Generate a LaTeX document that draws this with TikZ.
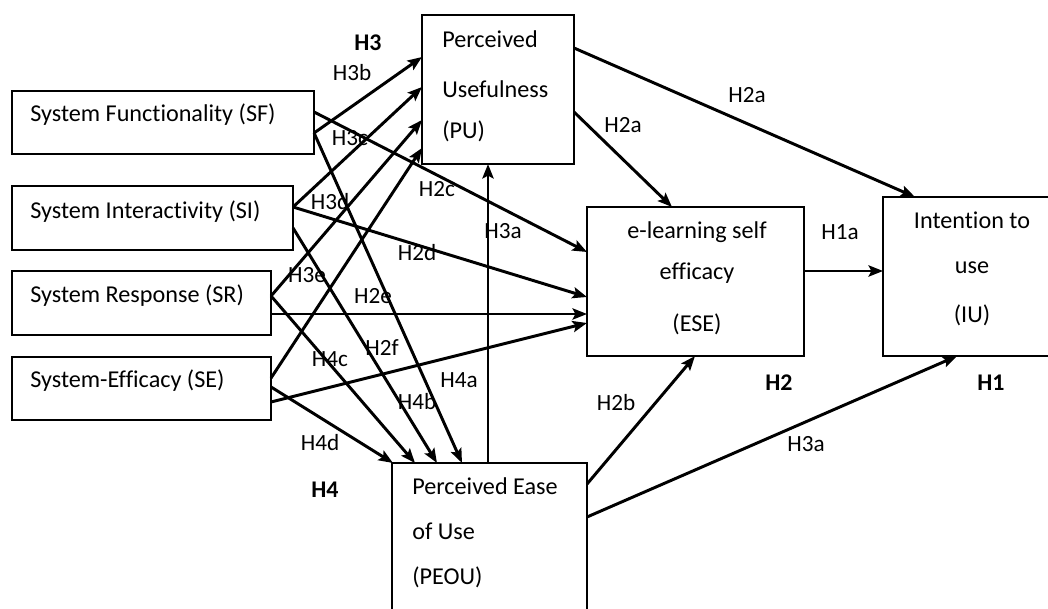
\documentclass[tikz,border=0pt]{standalone}
\usepackage{fontspec}
\setmainfont{Carlito}[Ligatures=NoCommon]
\usetikzlibrary{arrows.meta,calc}

\begin{document}
\begin{tikzpicture}[x=0.025cm,y=-0.025cm,
    box/.style={draw,line width=1.1pt,inner sep=0pt,outer sep=0pt,anchor=north west},
    txt/.style={font=\fontsize{17.2}{32}\selectfont,inner sep=0pt},
    lbl/.style={font=\fontsize{16.5}{19}\selectfont,inner sep=0pt},
    hyp/.style={font=\fontsize{17}{19}\selectfont\bfseries,inner sep=0pt},
    arr/.style={-{Stealth[length=3.6mm,width=2.8mm,inset=0.7mm]},line width=2.1pt}]
    \useasboundingbox (0,0) rectangle (1048,609);
    \clip (0,0) rectangle (1048,609);
    % System quality constructs
    \node[box,minimum width=7.55cm,minimum height=1.575cm] (sf) at (12,91) {};
    \node[box,minimum width=7.025cm,minimum height=1.6cm] (si) at (12,186) {};
    \node[box,minimum width=6.475cm,minimum height=1.6cm] (sr) at (12,271) {};
    \node[box,minimum width=6.475cm,minimum height=1.575cm] (se) at (12,357) {};
    \node[txt,anchor=west] (sf-t) at (30,115) {System Functionality (SF)};
    \node[txt,anchor=west] (si-t) at (30,212) {System Interactivity (SI)};
    \node[txt,anchor=west] (sr-t) at (30,296) {System Response (SR)};
    \node[txt,anchor=west] (se-t) at (30,381) {System-Efficacy (SE)};
    % Mediators and outcome
    \node[box,minimum width=3.8cm,minimum height=3.725cm] (pu) at (422,15) {};
    \node[txt,anchor=north west,align=left] (pu-t) at (442,30) {Perceived\\[3.6pt]Usefulness\\[-2.8pt](PU)};
    \node[box,minimum width=5.425cm,minimum height=3.725cm] (ese) at (587,207) {};
    \node[txt,anchor=north,align=center] (ese-t) at (697,221) {e-learning self\\[-2.8pt]efficacy\\[5pt](ESE)};
    \node[box,minimum width=4.45cm,minimum height=3.975cm] (iu) at (883,197) {};
    \node[txt,anchor=north,align=center] (iu-t) at (972,212) {Intention to\\use\\[2.9pt](IU)};
    \node[box,minimum width=4.875cm,minimum height=4.5cm] (peou) at (392,463) {};
    \node[txt,anchor=north west,align=left] (peou-t) at (412,477) {Perceived Ease\\of Use\\(PEOU)};
    % Paths into PU
    \draw[arr] ($(sf.north east)+(0,42)$) -- ($(pu.north west)+(0,42)$);
    \draw[arr] ($(si.north east)+(0,21)$) -- ($(pu.north west)+(0,72)$);
    \draw[arr] ($(sr.north east)+(0,25)$) -- ($(pu.north west)+(0,105)$);
    \draw[arr] ($(se.north east)+(0,21)$) -- ($(pu.north west)+(0,133)$);
    % Paths into ESE
    \draw[arr] ($(sf.north east)+(0,21)$) -- ($(ese.north west)+(0,45)$);
    \draw[arr] ($(si.north east)+(0,21)$) -- ($(ese.north west)+(0,90)$);
    \draw[arr] ($(sr.north east)+(0,43)$) -- ($(ese.north west)+(0,107)$);
    \draw[arr] ($(se.north east)+(0,45)$) -- ($(ese.north west)+(0,116)$);
    % Paths into PEOU
    \draw[arr] ($(sf.north east)+(0,42)$) -- ($(peou.north west)+(70,0)$);
    \draw[arr] ($(si.north east)+(0,42)$) -- ($(peou.north west)+(45,0)$);
    \draw[arr] ($(sr.north east)+(0,25)$) -- ($(peou.north west)+(23,0)$);
    \draw[arr] ($(se.north east)+(0,30)$) -- ($(peou.north west)+(1,0)$);
    % Remaining paths
    \draw[arr] ($(peou.north west)+(96,0)$) -- ($(pu.south west)+(66,0)$);
    \draw[arr] ($(pu.north east)+(0,97)$) -- ($(ese.north west)+(85,0)$);
    \draw[arr] ($(pu.north east)+(0,33)$) -- ($(iu.north west)+(32,0)$);
    \draw[arr] ($(ese.north east)+(0,64)$) -- ($(iu.north west)+(0,74)$);
    \draw[arr] ($(peou.north east)+(0,21)$) -- ($(ese.south west)+(108,0)$);
    \draw[arr] ($(peou.north east)+(0,54)$) -- ($(iu.south west)+(74,0)$);
    % Hypothesis labels
    \node[hyp] (h3) at (368,43) {H3};
    \node[hyp] (h2) at (779,383) {H2};
    \node[hyp] (h1) at (991,383) {H1};
    \node[hyp] (h4) at (325,490) {H4};
    \node[lbl] (l-h3b) at (352,73) {H3b};
    \node[lbl] (l-h3c) at (350,138) {H3c};
    \node[lbl] (l-h3d) at (330,202) {H3d};
    \node[lbl] (l-h3e) at (307,275) {H3e};
    \node[lbl] (l-h2c) at (437,189) {H2c};
    \node[lbl] (l-h2d) at (417,253) {H2d};
    \node[lbl] (l-h2e) at (373,296) {H2e};
    \node[lbl] (l-h2f) at (382,348) {H2f};
    \node[lbl] (l-h4c) at (330,359) {H4c};
    \node[lbl] (l-h4a) at (459,380) {H4a};
    \node[lbl] (l-h4b) at (417,402) {H4b};
    \node[lbl] (l-h4d) at (320,443) {H4d};
    \node[lbl] (l-h3a-1) at (503,231) {H3a};
    \node[lbl] (l-h2a-1) at (623,125) {H2a};
    \node[lbl] (l-h2a-2) at (747,95) {H2a};
    \node[lbl] (l-h1a) at (840,232) {H1a};
    \node[lbl] (l-h2b) at (616,403) {H2b};
    \node[lbl] (l-h3a-2) at (806,444) {H3a};
\end{tikzpicture}
\end{document}
